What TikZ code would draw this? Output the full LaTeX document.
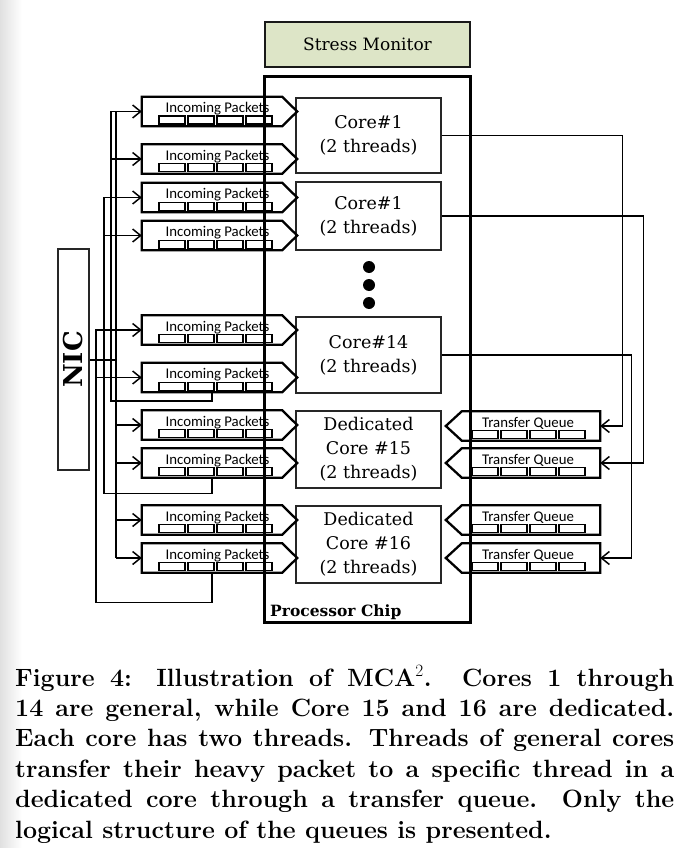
\documentclass[tikz,border=0pt]{standalone}
\usepackage{fontspec}
\newfontfamily\slabfont{DejaVu Serif}
\newfontfamily\calibfont{Carlito}
\usetikzlibrary{arrows.meta,calc}
\definecolor{smfill}{RGB}{221,229,199}
\newcommand\inqueue[2]{%
  \node[qbody] (#1) at (212,#2) {};
  \draw[qline] (#1.north west) -- (#1.north east) -- ($(#1.east)+(15,0)$) -- (#1.south east) -- (#1.south west) -- cycle;
  \node[qtext] (#1t) at ($(#1.north)+(5.5,16)$) {Incoming Packets};
  \foreach \i in {0,...,3} \draw[cell] ($(#1.south west)+(17+29*\i,-10)$) rectangle ++(26,8);
}
\newcommand\outqueue[2]{%
  \node[tbody] (#1) at (531,#2) {};
  \draw[qline] (#1.north east) -- (#1.north west) -- ($(#1.west)+(-16,0)$) -- (#1.south west) -- (#1.south east) -- cycle;
  \node[qtext] (#1t) at ($(#1.north)+(-3,16)$) {Transfer Queue};
  \foreach \i in {0,...,3} \draw[cell] ($(#1.south west)+(10+29*\i,-10)$) rectangle ++(26,8);
}
\begin{document}
\begin{tikzpicture}[x=1pt,y=-1pt,
  qbody/.style={minimum width=140pt,minimum height=29pt,inner sep=0pt,draw=none},
  tbody/.style={minimum width=138pt,minimum height=29pt,inner sep=0pt,draw=none},
  qline/.style={line width=2.3pt,line join=miter,black},
  cell/.style={line width=1.4pt,black},
  qtext/.style={font=\calibfont\fontsize{14.8}{16}\selectfont,anchor=base,inner sep=0pt},
  corebox/.style={draw=black!85,line width=2.8pt,fill=white,minimum width=145pt,minimum height=#1,inner sep=0pt,align=center,font=\slabfont\fontsize{17.5}{24}\selectfont},
  wire/.style={line width=1.5pt,black},
  arr/.style={-{Straight Barb[length=8pt,width=13pt]}},
  dotnode/.style={circle,fill=black,minimum size=12pt,inner sep=0pt},
]
\useasboundingbox (0,0) rectangle (692,848);
\fill[white] (0,0) rectangle (692,848);
\shade[left color=black!12,right color=white] (0,0) rectangle (22,848);

% Stress monitor
\node[draw=black!90,line width=2.5pt,fill=smfill,minimum width=205pt,minimum height=45pt,inner sep=0pt,font=\slabfont\fontsize{17}{20}\selectfont] (sm) at (367.5,44.5) {Stress Monitor};

% Processor chip
\node[draw=black,line width=3pt,minimum width=206pt,minimum height=545pt,inner sep=0pt] (chip) at (367,349.5) {};
\node[anchor=base west,inner sep=0pt,font=\slabfont\bfseries\fontsize{15.5}{18}\selectfont] (chipl) at (270,616) {Processor Chip};

% Cores
\node[corebox=75pt] (c1) at (368.5,135.5) {Core\#1\\(2 threads)};
\node[corebox=68pt] (c2) at (368.5,216) {Core\#1\\(2 threads)};
\node[corebox=76pt] (c14) at (368.5,355) {Core\#14\\(2 threads)};
\node[corebox=77pt] (c15) at (368.5,449.5) {\raisebox{-2pt}{\parbox{140pt}{\centering Dedicated\\Core \#15\\(2 threads)}}};
\node[corebox=77pt] (c16) at (368.5,544.5) {\raisebox{-2pt}{\parbox{140pt}{\centering Dedicated\\Core \#16\\(2 threads)}}};

\node[dotnode] (d1) at (369,267) {};
\node[dotnode] (d2) at (369,285) {};
\node[dotnode] (d3) at (369,303) {};

% Incoming queues
\inqueue{q1}{111.5}
\inqueue{q2}{159}
\inqueue{q3}{197.5}
\inqueue{q4}{235.5}
\inqueue{q5}{330}
\inqueue{q6}{377.5}
\inqueue{q7}{425}
\inqueue{q8}{463}
\inqueue{q9}{520}
\inqueue{q10}{558}

% Transfer queues
\outqueue{t1}{426}
\outqueue{t2}{463}
\outqueue{t3}{520}
\outqueue{t4}{558}

% NIC
\node[draw=black!85,line width=2.5pt,minimum width=31pt,minimum height=221pt,inner sep=0pt] (nic) at (73.5,359.5) {};
\node[rotate=90,inner sep=0pt,font=\slabfont\bfseries\fontsize{26}{28}\selectfont] (nict) at (nic.center) {NIC};

% bus lines
\coordinate (xa) at (96,0);
\coordinate (xb) at (104,0);
\coordinate (xc) at (111,0);
\coordinate (xd) at (116,0);

\draw[wire,line width=2pt] (nic.east) -- (xd |- nic.east);
\draw[wire] (xd |- q1.west) -- (xd |- q10.west);
\foreach \q in {q7,q8,q9,q10} \draw[wire,arr] (xd |- \q.west) -- (\q.west);

\draw[wire,arr] (q6.south) -- ++(0,9) -| (xc |- q1.west) -- (q1.west);
\draw[wire,arr] (xc |- q2.west) -- (q2.west);
\draw[wire,arr] (q8.south) -- ++(0,16) -| (xb |- q3.west) -- (q3.west);
\draw[wire,arr] (xb |- q4.west) -- (q4.west);
\draw[wire,arr] (q10.south) -- ++(0,30) -| (xa |- q5.west) -- (q5.west);
\draw[wire,arr] (xa |- q6.west) -- (q6.west);

% core to transfer queues
\draw[wire,arr] (c1.east) -- ++(180,0) |- (t1.east);
\draw[wire,arr] (c2.east) -- ++(201,0) |- (t2.east);
\draw[wire,arr] (c14.east) -- ++(189,0) |- (t4.east);

% caption
\node[anchor=base west,text width=659pt,align=justify,inner sep=0pt,font=\fontsize{25}{30.4}\selectfont\bfseries] (cap) at (15,686)
{Figure 4: Illustration of MCA$^2$. Cores 1 through\linebreak
14 are general, while Core 15 and 16 are dedicated.\linebreak
Each core has two threads. Threads of general cores\linebreak
transfer their heavy packet to a specific thread in a\linebreak
dedicated core through a transfer queue. Only the\linebreak
logical structure of the queues is presented.};
\end{tikzpicture}
\end{document}
